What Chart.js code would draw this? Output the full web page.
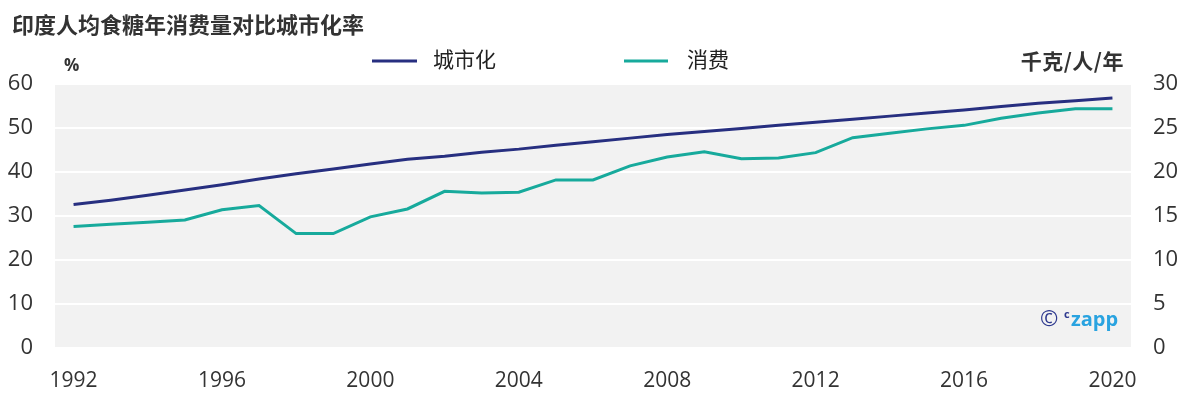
<!DOCTYPE html>
<html>
<head>
<meta charset="utf-8">
<script src="https://cdn.jsdelivr.net/npm/chart.js@4/dist/chart.umd.min.js"></script>
<style>
  html, body { margin: 0; padding: 0; background: #ffffff; }
  #wrap { width: 1185px; height: 415px; position: relative; }
</style>
</head>
<body>
<div id="wrap"><canvas id="c"></canvas></div>
<script>
const years = ['1992','1993','1994','1995','1996','1997','1998','1999','2000','2001','2002','2003','2004','2005','2006','2007','2008','2009','2010','2011','2012','2013','2014','2015','2016','2017','2018','2019','2020'];
// 城市化 (%), left axis
const urbanization = [32.6,33.6,34.7,35.9,37.1,38.4,39.6,40.7,41.8,42.9,43.6,44.5,45.2,46.1,46.9,47.7,48.5,49.2,49.9,50.6,51.3,52.0,52.7,53.4,54.1,54.9,55.6,56.2,56.8];
// 消费 (千克/人/年), right axis
const consumption = [13.8,14.05,14.3,14.55,15.7,16.2,13.0,13.0,14.9,15.8,17.8,17.6,17.7,19.1,19.1,20.7,21.7,22.3,21.5,21.6,22.2,23.9,24.4,24.9,25.3,26.1,26.7,27.2,27.2];
const seriesNames = ['城市化', '消费'];
const titleText = '印度人均食糖年消费量对比城市化率';
const leftUnit = '%';
const rightUnit = '千克/人/年';
const xTickEvery = 4;

const NAVY = '#272f80';
const TEAL = '#17aa9c';
const TXT = '#333333';

const decor = {
  id: 'decor',
  beforeDraw(chart) {
    const { ctx, chartArea: a } = chart;
    ctx.save();
    ctx.fillStyle = '#f2f2f2';
    ctx.fillRect(a.left, a.top, a.right - a.left, a.bottom - a.top);
    ctx.restore();
  },
  afterDraw(chart) {
    const ctx = chart.ctx;
    ctx.save();
    // title
    ctx.fillStyle = TXT;
    ctx.textBaseline = 'middle';
    ctx.textAlign = 'left';
    ctx.font = 'bold 22px "Noto Sans CJK SC"';
    ctx.fillText(titleText, 12, 25);
    // legend
    const ds = chart.data.datasets;
    const legendPos = [[372, 417, 433], [624, 668, 687]];
    ds.forEach((d, i) => {
      const [x1, x2, tx] = legendPos[i];
      ctx.strokeStyle = d.borderColor;
      ctx.lineWidth = 3;
      ctx.beginPath();
      ctx.moveTo(x1, 61);
      ctx.lineTo(x2, 61);
      ctx.stroke();
      ctx.fillStyle = '#222';
      ctx.font = '21px "Noto Sans CJK SC"';
      ctx.textAlign = 'left';
      ctx.fillText(d.label, tx, 59);
    });
    // unit labels
    ctx.fillStyle = TXT;
    ctx.font = 'bold 17px "Open Sans"';
    ctx.textAlign = 'left';
    ctx.fillText(leftUnit, 64, 66);
    ctx.font = 'bold 21px "Noto Sans CJK SC"';
    ctx.textAlign = 'right';
    try { ctx.letterSpacing = '0.5px'; } catch (e) {}
    ctx.fillText(rightUnit, 1124, 61);
    try { ctx.letterSpacing = '0px'; } catch (e) {}
    // logo
    ctx.textAlign = 'left';
    ctx.fillStyle = '#2f3a8f';
    ctx.font = '22px "Open Sans"';
    ctx.fillText('\u00A9', 1040, 320);
    ctx.font = 'bold 11px "Open Sans"';
    ctx.fillText('c', 1064, 315);
    ctx.fillStyle = '#29a3e0';
    ctx.font = 'bold 20px "Open Sans"';
    ctx.fillText('zapp', 1071, 320);
    ctx.restore();
  }
};

new Chart(document.getElementById('c'), {
  type: 'line',
  data: {
    labels: years,
    datasets: [
      { label: seriesNames[0], data: urbanization, yAxisID: 'y', borderColor: NAVY, backgroundColor: NAVY, borderWidth: 3, pointRadius: 0, tension: 0 },
      { label: seriesNames[1], data: consumption, yAxisID: 'y1', borderColor: TEAL, backgroundColor: TEAL, borderWidth: 3, pointRadius: 0, tension: 0 }
    ]
  },
  options: {
    responsive: true,
    maintainAspectRatio: false,
    animation: false,
    layout: { padding: { top: 84, left: 0, right: 0, bottom: 0 } },
    plugins: { legend: { display: false }, tooltip: { enabled: false }, title: { display: false } },
    scales: {
      x: {
        type: 'category',
        offset: true,
        grid: { display: false, drawTicks: false },
        border: { display: false },
        ticks: {
          autoSkip: false, maxRotation: 0, padding: 20, color: TXT,
          font: { family: 'Open Sans', size: 21 },
          callback: function(v, i) { return i % xTickEvery === 0 ? years[i] : ''; }
        },
        afterFit(s) { s.height = 67; }
      },
      y: {
        position: 'left', min: 0, max: 60,
        grid: { color: '#ffffff', lineWidth: 2, drawTicks: false },
        border: { display: false },
        ticks: { stepSize: 10, padding: 22, color: TXT, font: { family: 'Open Sans', size: 22 } },
        afterFit(s) { s.width = 55; }
      },
      y1: {
        position: 'right', min: 0, max: 30,
        grid: { display: false, drawTicks: false },
        border: { display: false },
        ticks: { stepSize: 5, padding: 22, color: TXT, font: { family: 'Open Sans', size: 22 } },
        afterFit(s) { s.width = 54; }
      }
    }
  },
  plugins: [decor]
});
</script>
</body>
</html>
